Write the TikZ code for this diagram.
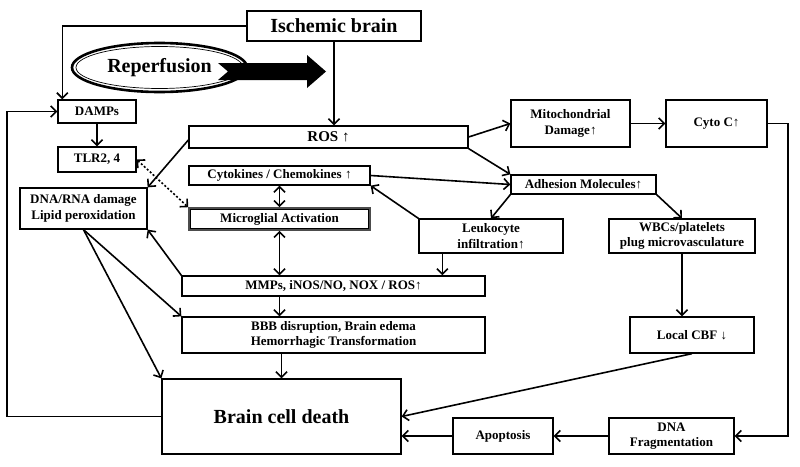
\documentclass[tikz,border=0pt]{standalone}
\usepackage{fontspec}
\setmainfont{Liberation Serif}
\usetikzlibrary{arrows.meta,shapes.geometric}

\tikzset{
	box/.style={draw, line width=1.3pt, inner sep=0pt, align=center,
		font=\bfseries\fontsize{13}{15.5}\selectfont},
	big/.style={font=\bfseries\fontsize{20}{24}\selectfont},
	link/.style={line width=1.6pt, -{Straight Barb[length=5.5pt,width=11pt]}},
	both/.style={line width=1.6pt,
		{Straight Barb[length=5.5pt,width=11pt]}-{Straight Barb[length=5.5pt,width=11pt]}},
}

\begin{document}
\begin{tikzpicture}[x=1pt,y=-1pt]

\def\width{800}
\def\height{466}

\path [use as bounding box] (0,0) rectangle (\width,\height);

% TOP
\node [box, big, minimum width=174pt, minimum height=30pt] (isch) at (334,26) {Ischemic brain};
\node [ellipse, draw, line width=2.6pt, big, minimum width=175pt, minimum height=49pt] (reperf) at (159.5,67.5) {Reperfusion};
\node [ellipse, draw, line width=0.7pt, minimum width=167pt, minimum height=42pt] (reperfin) at (reperf.center) {};
\fill (218,63) -- (307,63) -- (307,55) -- (326,71.5) -- (307,88) -- (307,80) -- (218,80) -- (228,71.5) -- cycle;

% LEFT COLUMN
\node [box, minimum width=78pt, minimum height=23pt] (damps) at (97,111.5) {DAMPs};
\node [box, minimum width=78pt, minimum height=25pt] (tlr) at (97,159.5) {TLR2, 4};
\node [box, minimum width=127pt, minimum height=41pt] (dna) at (83.5,208.5) {DNA/RNA damage\\Lipid peroxidation};

% MIDDLE COLUMN
\node [box, font=\bfseries\fontsize{15}{18}\selectfont, minimum width=279pt, minimum height=22pt] (ros) at (328.5,137) {ROS ↑};
\node [box, minimum width=181pt, minimum height=19pt] (cyto) at (279.5,175.5) {Cytokines / Chemokines ↑};
\node [box, draw=black!70, line width=1.6pt, minimum width=181pt, minimum height=22pt] (micro) at (279.5,219) {Microglial Activation};
\draw [line width=0.7pt] ([xshift=2.4pt,yshift=-2.4pt]micro.north west) rectangle ([xshift=-2.4pt,yshift=2.4pt]micro.south east);
\node [box, minimum width=303pt, minimum height=20pt] (mmp) at (333.5,286) {MMPs, iNOS/NO, NOX / ROS↑};
\node [box, minimum width=303pt, minimum height=36pt] (bbb) at (333.5,335) {BBB disruption, Brain edema\\Hemorrhagic Transformation};
\node [box, big, minimum width=239pt, minimum height=75pt] (death) at (281.5,416.5) {Brain cell death};

% RIGHT SIDE
\node [box, minimum width=119pt, minimum height=47pt] (mito) at (570.5,123.5) {Mitochondrial\\Damage↑};
\node [box, minimum width=101pt, minimum height=47pt] (cytoc) at (716.5,123.5) {Cyto C↑};
\node [box, minimum width=145pt, minimum height=19pt] (adhes) at (583.5,184.5) {Adhesion Molecules↑};
\node [box, minimum width=144pt, minimum height=34pt] (leuko) at (491,236) {Leukocyte\\infiltration↑};
\node [box, minimum width=146pt, minimum height=34pt] (wbc) at (682,236) {WBCs/platelets\\plug microvasculature};
\node [box, minimum width=124pt, minimum height=36pt] (cbf) at (692,335) {Local CBF ↓};
\node [box, minimum width=100pt, minimum height=36pt] (apop) at (503,436) {Apoptosis};
\node [box, minimum width=125pt, minimum height=36pt] (frag) at (671.5,436) {DNA\\Fragmentation};

% LOOPS
\coordinate (lf) at (7,416.5);
\coordinate (rt) at (788,123.5);
\coordinate (lk) at ([xshift=24pt]leuko.south west);

% ARROWS
\draw [link] (isch.west) -| ([xshift=5pt]damps.north west);
\draw [link] (isch.south) -- (isch.south |- ros.north);
\draw [link] (death.west) -- (lf) |- (damps.west);
\draw [link] (damps.south) -- (tlr.north);
\draw [both, dash pattern=on 2pt off 2pt] (tlr.east) -- (micro.north west);
\draw [link] ([yshift=-3pt]ros.west) -- (dna.north east);
\draw [link] (ros.east) -- (mito.west);
\draw [link] (ros.south east) -- (adhes.north west);
\draw [link] (cyto.east) -- (adhes.west);
\draw [link] (leuko.north west) -- (cyto.south east);
\draw [link] (adhes.south west) -- (leuko.north);
\draw [link] (adhes.south east) -- (wbc.north);
\draw [link] (mito.east) -- (cytoc.west);
\draw [link] (cytoc.east) -- (rt) |- (frag.east);
\draw [both] (cyto.south) -- (micro.north);
\draw [both] (micro.south) -- (micro.south |- mmp.north);
\draw [link] (mmp.north west) -- (dna.south east);
\draw [link] (lk) -- (lk |- mmp.north);
\draw [link] (micro.south |- mmp.south) -- (micro.south |- bbb.north);
\draw [link] (dna.south) -- (bbb.north west);
\draw [link] (dna.south) -- (death.north west);
\draw [link] (death.north |- bbb.south) -- (death.north);
\draw [link] (wbc.south) -- (wbc.south |- cbf.north);
\draw [link] (cbf.south) -- (death.east);
\draw [link] (apop.west) -- (apop.west -| death.east);
\draw [link] (frag.west) -- (apop.east);

\end{tikzpicture}
\end{document}
